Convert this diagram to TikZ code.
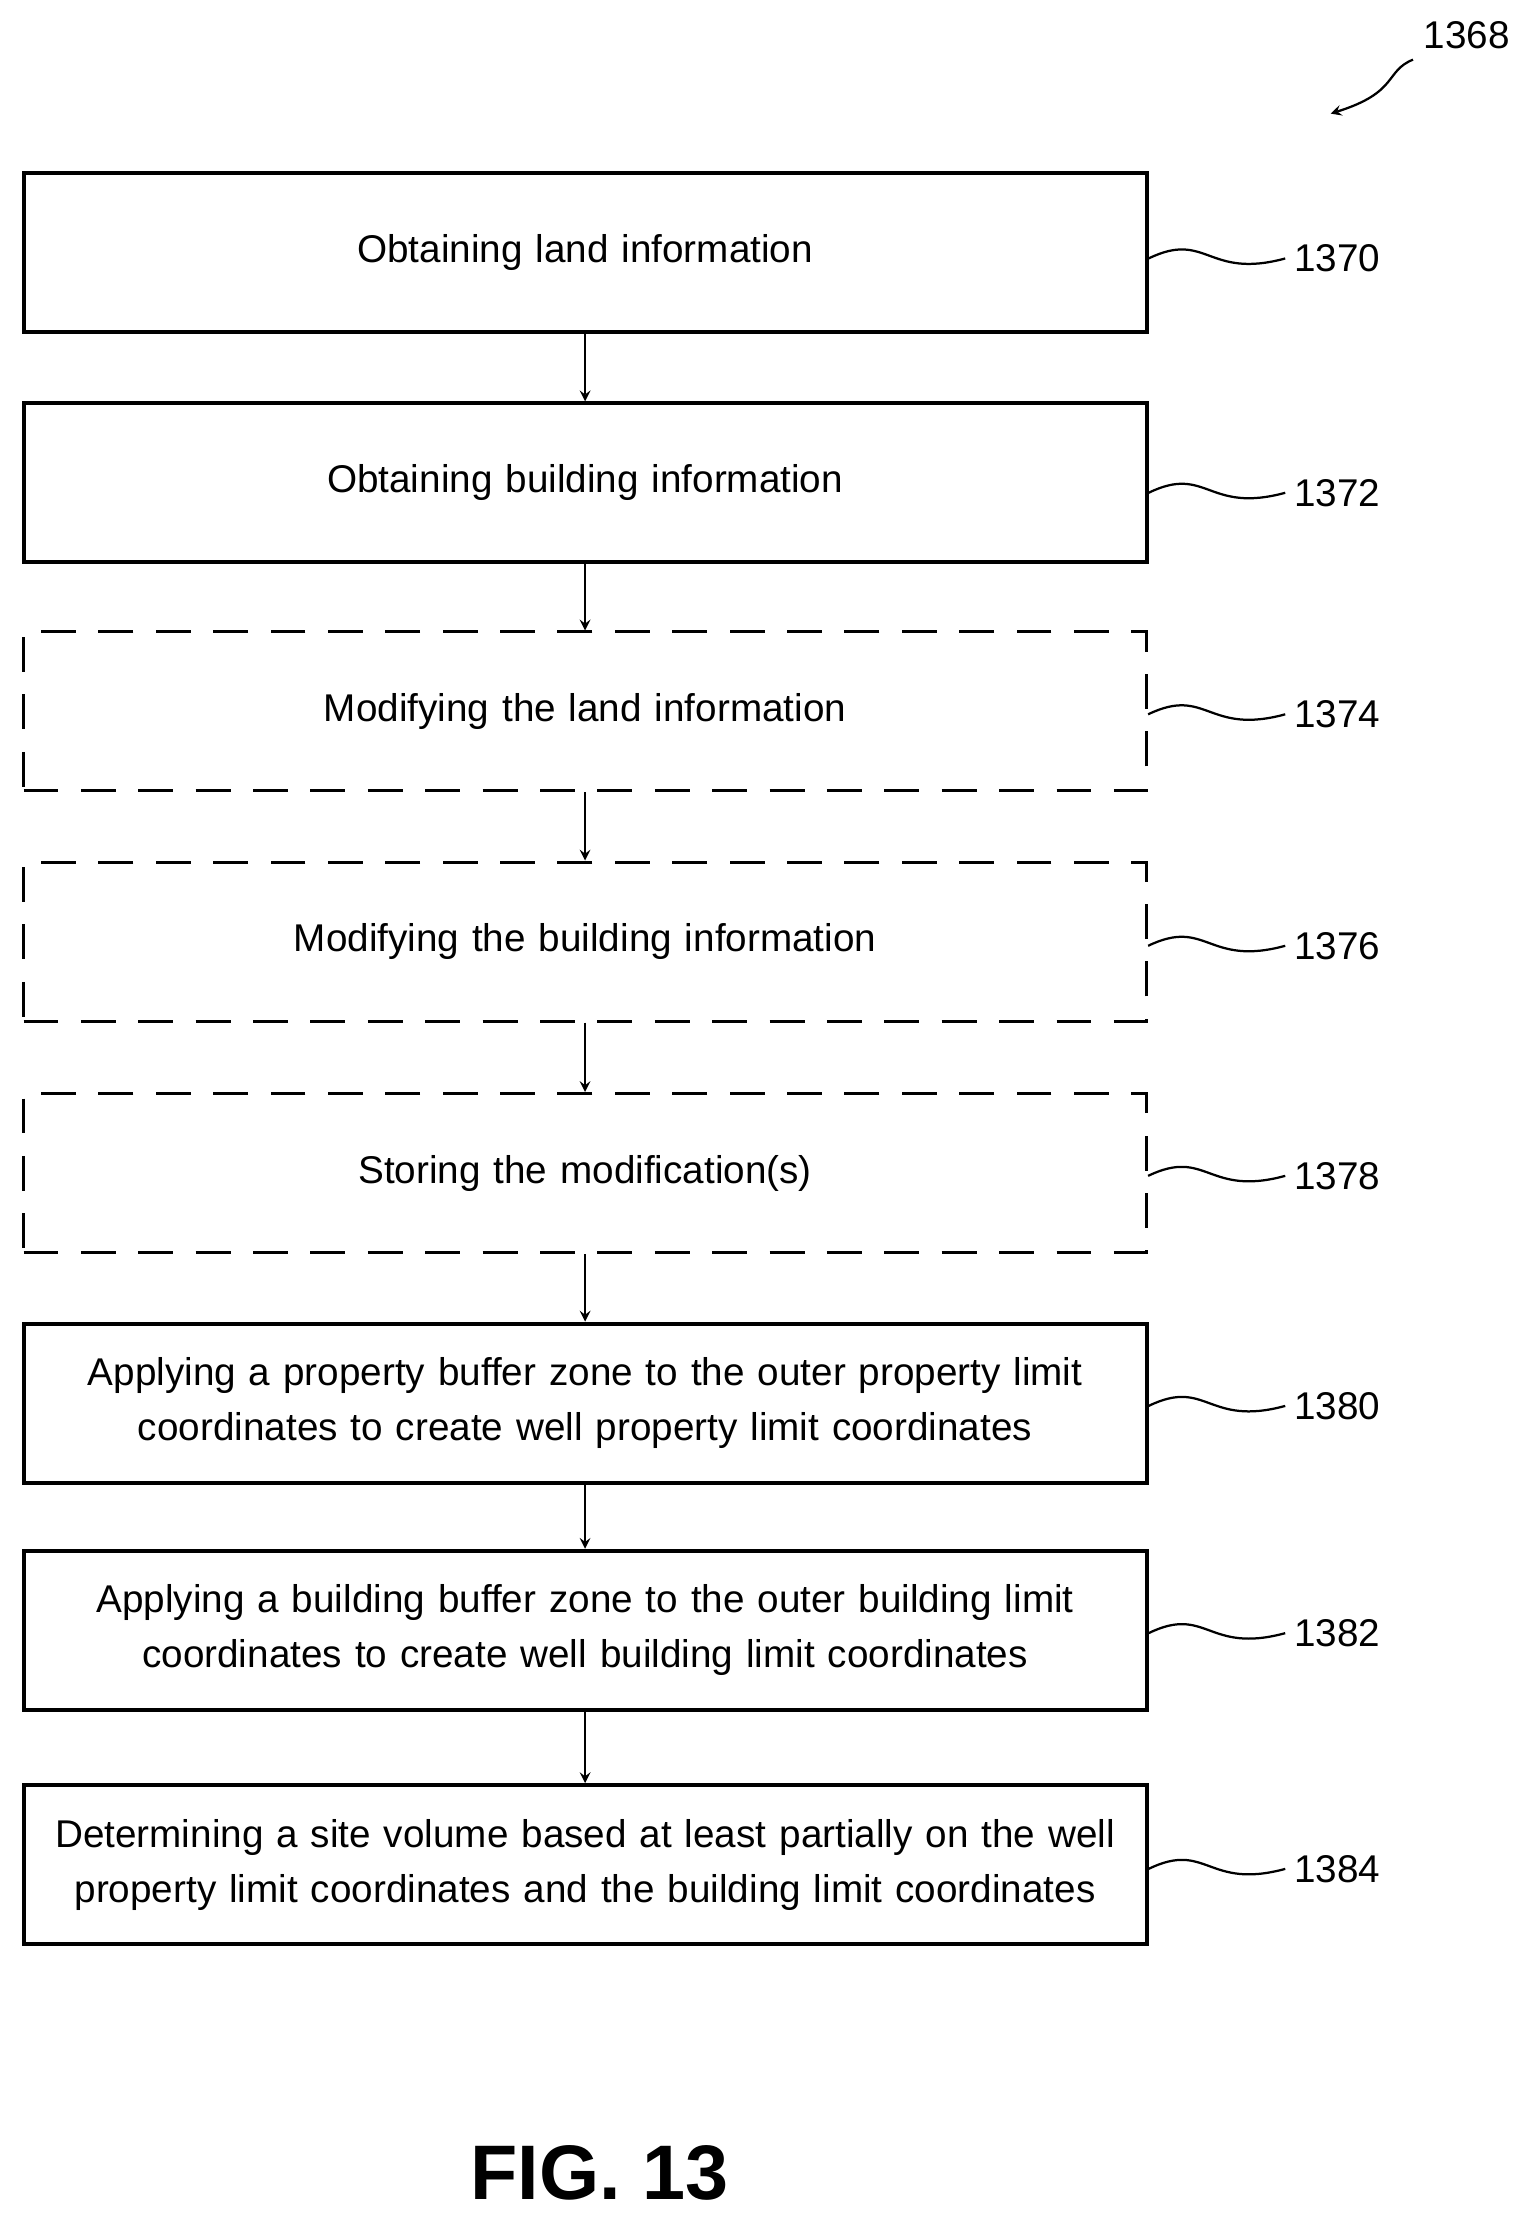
\documentclass[tikz,border=0pt]{standalone}
\usepackage{fontspec}
\setmainfont{Liberation Sans}
\usetikzlibrary{positioning}
\begin{document}
\begin{tikzpicture}[x=0.02cm,y=-0.02cm,
    stepbox/.style={draw, line width=1.6pt, minimum width=15.82cm, minimum height=2.24cm,
                 text width=15.4cm, align=center, font=\fontsize{15.5}{22}\selectfont, inner sep=0pt},
    optbox/.style={stepbox, line width=1.2pt, dash pattern=on 14pt off 9pt},
    ref/.style={font=\fontsize{15.5}{20}\selectfont},
    link/.style={->, >=stealth, line width=0.9pt},
    tilde/.style={line width=0.9pt}]
    \useasboundingbox (0,0) rectangle (1080,1571);

    \node[stepbox] (s1370) at (412,178) {Obtaining land information};
    \node[stepbox] (s1372) at (412,340) {Obtaining building information};
    \node[optbox]  (s1374) at (412,501) {Modifying the land information};
    \node[optbox]  (s1376) at (412,663) {Modifying the building information};
    \node[optbox]  (s1378) at (412,826) {Storing the modification(s)};
    \node[stepbox] (s1380) at (412,988) {Applying a property buffer zone to the outer property limit\\coordinates to create well property limit coordinates};
    \node[stepbox] (s1382) at (412,1148) {Applying a building buffer zone to the outer building limit\\coordinates to create well building limit coordinates};
    \node[stepbox] (s1384) at (412,1313) {Determining a site volume based at least partially on the well\\property limit coordinates and the building limit coordinates};

    % reference numerals
    \foreach \n/\y in {1370/182,1372/347,1374/503,1376/666,1378/828,1380/990,1382/1150,1384/1316}{
        \node[ref, anchor=west] (r\n) at (905,\y) {\n};
        \draw[tilde] (s\n.east |- 0,\y) .. controls (850,\y-20) and (850,\y+15) .. (r\n.west);
    }

    \foreach \a/\b in {1370/1372,1372/1374,1374/1376,1376/1378,1378/1380,1380/1382,1382/1384}
        \draw[link] (s\a) -- (s\b);

    \node[ref] (fig) at (1033,25) {1368};
    \coordinate (tip) at (937,80);
    \draw[->, >=stealth, line width=0.9pt] (995,42) .. controls (975,50) and (985,65) .. (tip);

    \node[font=\bfseries\fontsize{31}{36}\selectfont] (cap) at (422,1530) {FIG. 13};
\end{tikzpicture}
\end{document}
